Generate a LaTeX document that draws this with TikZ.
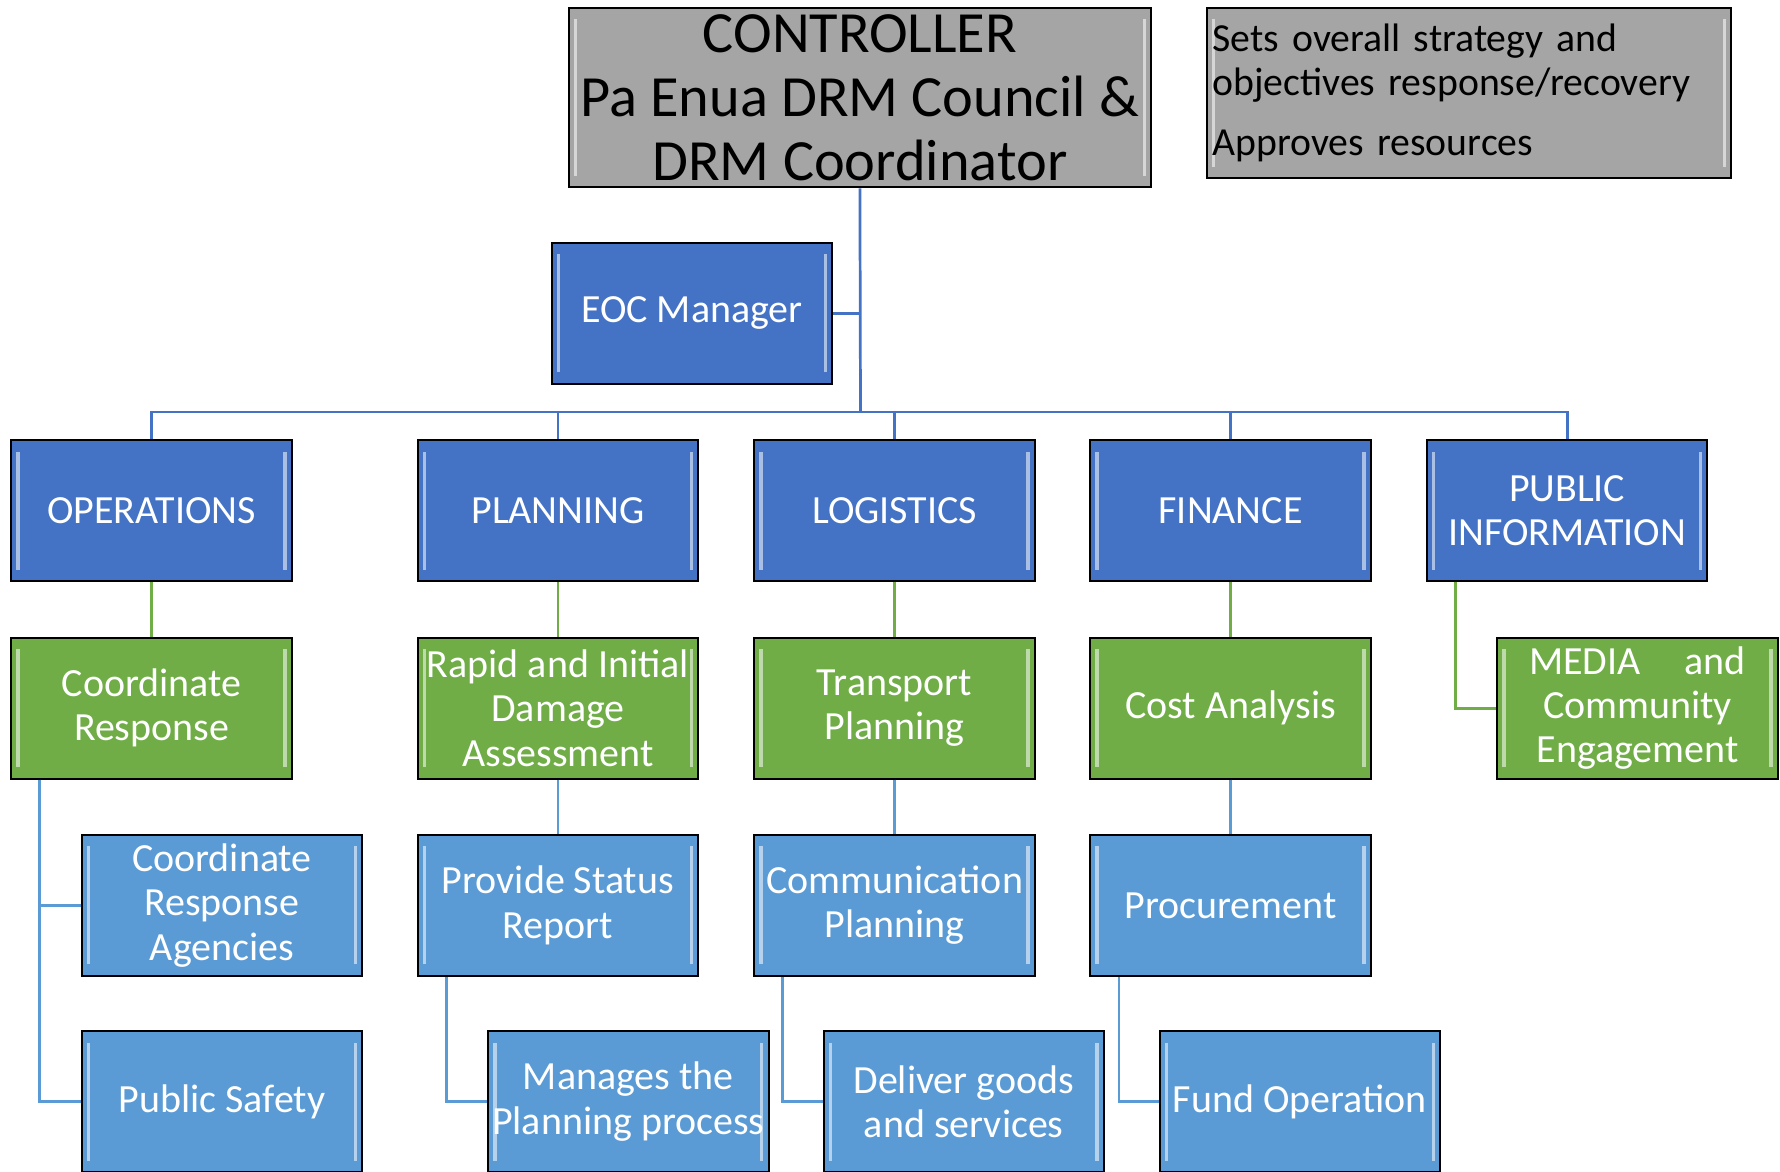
\documentclass[tikz,border=0pt]{standalone}
\usepackage{fontspec}
\setmainfont{Carlito}
\usetikzlibrary{positioning}
\definecolor{ctrlgray}{HTML}{A5A5A5}
\definecolor{secblue}{HTML}{4472C4}
\definecolor{taskgreen}{HTML}{70AD47}
\definecolor{dutyblue}{HTML}{5B9BD5}

\begin{document}
\begin{tikzpicture}[x=0.5pt,y=-0.5pt,
  box/.style={draw=black,line width=0.9pt,rectangle,minimum width=123.5pt,minimum height=62pt,inner sep=0pt,align=center,text=white,font=\fontsize{17.6}{19.5}\selectfont,
    path picture={\draw[white,opacity=.55,line width=1.5pt]
      ([xshift=3pt,yshift=5pt]path picture bounding box.south west) -- ([xshift=3pt,yshift=-5pt]path picture bounding box.north west)
      ([xshift=-3pt,yshift=5pt]path picture bounding box.south east) -- ([xshift=-3pt,yshift=-5pt]path picture bounding box.north east);}},
  head/.style={box,fill=ctrlgray,text=black,minimum width=256.5pt,minimum height=79pt,font=\fontsize{25.7}{28.25}\selectfont},
  note/.style={box,fill=ctrlgray,text=black,minimum width=231pt,minimum height=75pt,text width=226pt,align=left,font=\fontsize{17.5}{19.5}\selectfont},
  section/.style={box,fill=secblue},
  task/.style={box,fill=taskgreen},
  duty/.style={box,fill=dutyblue},
  busline/.style={draw=secblue,line width=1.2pt},
  greenline/.style={draw=taskgreen,line width=1.2pt},
  dutyline/.style={draw=dutyblue,line width=1.2pt}]
\useasboundingbox (0,0) rectangle (1568,1032);

\node[head] (ctrl) at (757.5,86) {CONTROLLER\\Pa Enua DRM Council \&\\DRM Coordinator};
\node[note] (note) at (1294,82) {Sets overall strategy and\\objectives response/recovery\\[7pt]Approves resources};
\node[section] (eoc) at (609.5,276) {EOC Manager};

\foreach \n/\x/\t in {ops/133.5/OPERATIONS, plan/491.5/PLANNING, log/788/LOGISTICS, fin/1084/FINANCE, pub/1380.5/{PUBLIC\\INFORMATION}} {
   \node[section] (\n) at (\x,450) {\t};
}

\node[task, below=24pt of ops] (coordresp) {Coordinate\\Response};
\node[task, below=24pt of plan] (rapid) {Rapid and Initial\\Damage\\Assessment};
\node[task, below=24pt of log] (transport) {Transport\\Planning};
\node[task, below=24pt of fin] (cost) {Cost Analysis};
\node[task, below=24pt of pub, xshift=31pt] (media) {MEDIA\hspace{1.1em}and\\Community\\Engagement};

\node[duty, below=24pt of coordresp, xshift=31pt] (agencies) {Coordinate\\Response\\Agencies};
\node[duty, below=24pt of rapid] (status) {Provide Status\\Report};
\node[duty, below=24pt of transport] (comms) {Communication\\Planning};
\node[duty, below=24pt of cost] (procure) {Procurement};

\node[duty, below=23.5pt of agencies] (safety) {Public Safety};
\node[duty, below=23.5pt of status, xshift=31pt] (manage) {Manages the\\Planning process};
\node[duty, below=23.5pt of comms, xshift=30.5pt] (deliver) {Deliver goods\\and services};
\node[duty, below=23.5pt of procure, xshift=30.5pt] (fund) {Fund Operation};

\coordinate (bus) at (758,363);
\draw[busline] (ctrl.south) -- (bus);
\draw[busline] (eoc.east) -- (eoc.east -| ctrl.south);
\foreach \n in {ops,plan,log,fin,pub} {
  \draw[busline] (bus) -| (\n.north);
}

\foreach \a/\b in {ops/coordresp,plan/rapid,log/transport,fin/cost} {
  \draw[greenline] (\a.south) -- (\b.north);
}
\draw[greenline] ([xshift=13pt]pub.south west) |- (media.west);

\foreach \a/\b in {rapid/status,transport/comms,cost/procure} {
  \draw[dutyline] (\a.south) -- (\b.north);
}
\foreach \a/\b in {coordresp/agencies,coordresp/safety,status/manage,comms/deliver,procure/fund} {
  \draw[dutyline] ([xshift=13pt]\a.south west) |- (\b.west);
}
\end{tikzpicture}
\end{document}
